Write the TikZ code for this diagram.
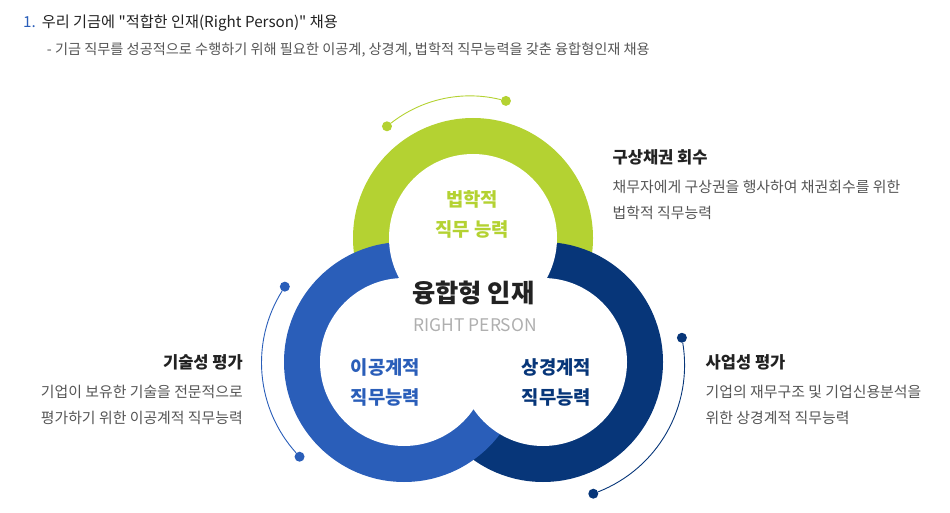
\documentclass[tikz,border=0pt]{standalone}
\usepackage{fontspec}
\setmainfont{Noto Sans CJK KR}
\newfontfamily\plainkr{Noto Sans CJK KR}
\usetikzlibrary{positioning, calc}
\definecolor{palgreen}{RGB}{180,210,50}
\definecolor{palblue}{RGB}{42,94,185}
\definecolor{palnavy}{RGB}{7,54,121}
\definecolor{palink}{RGB}{34,34,34}
\definecolor{palgray}{RGB}{85,85,85}
\definecolor{pallight}{RGB}{175,175,175}
\tikzset{
  ring/.style={circle, inner sep=0pt, minimum size=240pt},
  hole/.style={circle, fill=white, inner sep=0pt, minimum size=168pt},
  dot/.style={circle, inner sep=0pt, minimum size=10pt},
  orbit/.style={line width=0.9pt},
  ringlabel/.style={align=center, inner sep=0pt, font=\fontsize{18.8}{30.5}\selectfont\bfseries},
  heading/.style={inner sep=0pt, font=\fontsize{16.5}{19}\selectfont\bfseries, text=palink},
  body/.style={inner sep=0pt, font=\fontsize{14.9}{26}\selectfont, text=palgray}
}

\begin{document}
\begin{tikzpicture}[x=1pt,y=1pt]
    \useasboundingbox (0,0) rectangle (950,512);

    % title lines
    \node[anchor=base west, inner sep=0pt, font=\plainkr\fontsize{15.2}{18}\selectfont, text=palink] (title) at (23,484.5) {\textcolor{palblue}{1.}\hspace{6pt}우리 기금에 "적합한 인재(Right Person)" 채용};
    \node[anchor=base west, inner sep=0pt, font=\fontsize{14.2}{17}\selectfont, text=palgray] (subtitle) at (46.7,457) {- 기금 직무를 성공적으로 수행하기 위해 필요한 이공계, 상경계, 법학적 직무능력을 갖춘 융합형인재 채용};

    % three rings
    \node[ring, fill=palgreen] (gring) at (473,274) {};
    \node[ring, fill=palnavy] (nring) at (543,150) {};
    \node[ring, fill=palblue] (bring) at (404,150) {};
    \node[hole] (ghole) at (gring) {};
    \node[hole] (nhole) at (nring) {};
    \node[hole] (bhole) at (bring) {};

    % orbits with dots
    \node[dot, fill=palgreen] (gdotl) at ($(gring)+(127.6:141)$) {};
    \node[dot, fill=palgreen] (gdotr) at ($(gring)+(76.5:141)$) {};
    \node[dot, fill=palblue] (bdott) at ($(bring)+(147.7:141)$) {};
    \node[dot, fill=palblue] (bdotb) at ($(bring)+(222.2:141)$) {};
    \node[dot, fill=palnavy] (ndott) at ($(nring)+(9.9:141)$) {};
    \node[dot, fill=palnavy] (ndotb) at ($(nring)+(-69.1:141)$) {};
    \draw[orbit, palgreen] (gdotl) to[bend left=26, looseness=0.9] (gdotr);
    \draw[orbit, palblue] (bdott) to[bend right=37, looseness=0.95] (bdotb);
    \draw[orbit, palnavy] (ndott) to[bend left=39, looseness=0.96] (ndotb);

    % labels inside the rings
    \node[ringlabel, text=palgreen] (lawlabel) at (472,297.5) {법학적\\직무 능력};
    \node[ringlabel, text=palblue] (sciencelabel) at (385.5,129.5) {이공계적\\직무능력};
    \node[ringlabel, text=palnavy] (econlabel) at (556.5,129.5) {상경계적\\직무능력};
    \node[inner sep=0pt, font=\fontsize{25.3}{28}\selectfont\bfseries, text=palink] (talent) at (473.3,218.7) {융합형 인재};
    \node[inner sep=0pt, font=\fontsize{17.4}{20}\selectfont, text=pallight] (rightperson) at (475.3,187.2) {RIGHT PERSON};

    % side texts
    \node[heading, anchor=west] (recovery) at (612.5,354.5) {구상채권 회수};
    \node[body, anchor=west, align=left] (recoverytext) at (612.5,312.4) {채무자에게 구상권을 행사하여 채권회수를 위한\\법학적 직무능력};
    \node[heading, anchor=east] (techeval) at (243,149.5) {기술성 평가};
    \node[body, anchor=east, align=right] (techtext) at (243,107) {기업이 보유한 기술을 전문적으로\\평가하기 위한 이공계적 직무능력};
    \node[heading, anchor=west] (bizeval) at (705.5,149.5) {사업성 평가};
    \node[body, anchor=west, align=left] (biztext) at (705.5,107) {기업의 재무구조 및 기업신용분석을\\위한 상경계적 직무능력};
  \end{tikzpicture}
\end{document}
